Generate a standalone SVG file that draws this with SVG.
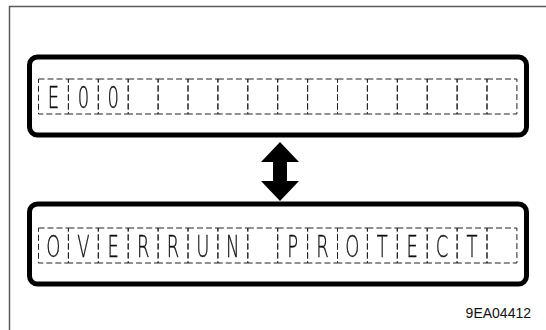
<svg xmlns="http://www.w3.org/2000/svg" width="546" height="330" viewBox="0 0 546 330">
<defs>
<filter id="gray" x="0" y="0" width="1" height="1"><feColorMatrix type="saturate" values="0"/></filter>
</defs>
<style>
.frame{fill:none;stroke:#5a5a5a;stroke-width:1.5}
.box{fill:#fff;stroke:#000;stroke-width:5}
.cell{fill:none;stroke:#222;stroke-width:1;stroke-dasharray:6 3}
.ch{font-family:"DejaVu Sans","Liberation Sans",sans-serif;font-weight:200;font-size:30px;fill:#111;stroke:#111;stroke-width:0.35;text-anchor:middle}
.code{font-family:"Liberation Sans",Arial,sans-serif;font-size:14px;fill:#111;text-anchor:end}
</style>
<rect width="546" height="330" fill="#fff"/>
<path class="frame" d="M9.5 330V6.5H546"/>
<g id="display-top">
<rect class="box" x="29.5" y="57" width="497" height="78" rx="8"/>
<g id="cells-top">
<rect class="cell" x="38.5" y="79" width="29.9" height="35"/>
<rect class="cell" x="68.4" y="79" width="29.9" height="35"/>
<rect class="cell" x="98.3" y="79" width="29.9" height="35"/>
<rect class="cell" x="128.2" y="79" width="29.9" height="35"/>
<rect class="cell" x="158.1" y="79" width="29.9" height="35"/>
<rect class="cell" x="188" y="79" width="29.9" height="35"/>
<rect class="cell" x="217.9" y="79" width="29.9" height="35"/>
<rect class="cell" x="247.8" y="79" width="29.9" height="35"/>
<rect class="cell" x="277.7" y="79" width="29.9" height="35"/>
<rect class="cell" x="307.6" y="79" width="29.9" height="35"/>
<rect class="cell" x="337.5" y="79" width="29.9" height="35"/>
<rect class="cell" x="367.4" y="79" width="29.9" height="35"/>
<rect class="cell" x="397.3" y="79" width="29.9" height="35"/>
<rect class="cell" x="427.2" y="79" width="29.9" height="35"/>
<rect class="cell" x="457.1" y="79" width="29.9" height="35"/>
<rect class="cell" x="487" y="79" width="29.9" height="35"/>
</g>
<g transform="translate(0,108)" filter="url(#gray)">
<text class="ch" transform="translate(53.45,0) scale(0.6,1)">E</text>
<text class="ch" transform="translate(83.35,0) scale(0.6,1)">0</text>
<text class="ch" transform="translate(113.25,0) scale(0.6,1)">0</text>
</g>
</g>
<g id="connectors">
<path d="M280 142L299 162H287V181H299L280 201L261 181H273V162H261Z" fill="#000"/>
</g>
<g id="display-bottom">
<rect class="box" x="29.5" y="204" width="497" height="80" rx="8"/>
<g id="cells-bottom">
<rect class="cell" x="38.5" y="228" width="29.9" height="35"/>
<rect class="cell" x="68.4" y="228" width="29.9" height="35"/>
<rect class="cell" x="98.3" y="228" width="29.9" height="35"/>
<rect class="cell" x="128.2" y="228" width="29.9" height="35"/>
<rect class="cell" x="158.1" y="228" width="29.9" height="35"/>
<rect class="cell" x="188" y="228" width="29.9" height="35"/>
<rect class="cell" x="217.9" y="228" width="29.9" height="35"/>
<rect class="cell" x="247.8" y="228" width="29.9" height="35"/>
<rect class="cell" x="277.7" y="228" width="29.9" height="35"/>
<rect class="cell" x="307.6" y="228" width="29.9" height="35"/>
<rect class="cell" x="337.5" y="228" width="29.9" height="35"/>
<rect class="cell" x="367.4" y="228" width="29.9" height="35"/>
<rect class="cell" x="397.3" y="228" width="29.9" height="35"/>
<rect class="cell" x="427.2" y="228" width="29.9" height="35"/>
<rect class="cell" x="457.1" y="228" width="29.9" height="35"/>
<rect class="cell" x="487" y="228" width="29.9" height="35"/>
</g>
<g transform="translate(0,257)" filter="url(#gray)">
<text class="ch" transform="translate(53.45,0) scale(0.6,1)">O</text>
<text class="ch" transform="translate(83.35,0) scale(0.6,1)">V</text>
<text class="ch" transform="translate(113.25,0) scale(0.6,1)">E</text>
<text class="ch" transform="translate(143.15,0) scale(0.6,1)">R</text>
<text class="ch" transform="translate(173.05,0) scale(0.6,1)">R</text>
<text class="ch" transform="translate(202.95,0) scale(0.6,1)">U</text>
<text class="ch" transform="translate(232.85,0) scale(0.6,1)">N</text>
<text class="ch" transform="translate(292.65,0) scale(0.6,1)">P</text>
<text class="ch" transform="translate(322.55,0) scale(0.6,1)">R</text>
<text class="ch" transform="translate(352.45,0) scale(0.6,1)">O</text>
<text class="ch" transform="translate(382.35,0) scale(0.6,1)">T</text>
<text class="ch" transform="translate(412.25,0) scale(0.6,1)">E</text>
<text class="ch" transform="translate(442.15,0) scale(0.6,1)">C</text>
<text class="ch" transform="translate(472.05,0) scale(0.6,1)">T</text>
</g>
</g>
<text id="figure-code" class="code" x="531" y="318">9EA04412</text>
</svg>
